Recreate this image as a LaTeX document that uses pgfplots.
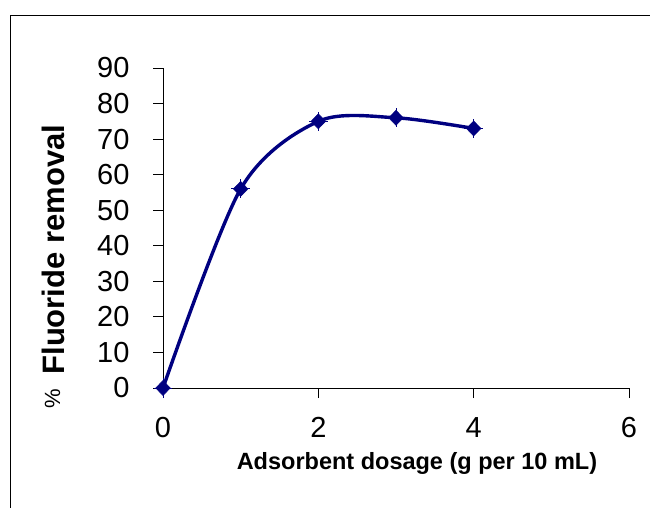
\documentclass[border=0pt]{standalone}
\usepackage{fontspec}
\setmainfont{Liberation Sans}
\usepackage{pgfplots}
\pgfplotsset{compat=1.18}
\definecolor{navyline}{RGB}{0,0,128}
\begin{document}
\begin{tikzpicture}[x=1pt,y=1pt]
\useasboundingbox (0,0) rectangle (650,507);
\draw[line width=1pt] (10.5,-5) -- (10.5,491) -- (660,491);
\begin{axis}[
  at={(163pt,119pt)}, anchor=south west,
  scale only axis, width=466pt, height=320pt,
  xmin=0, xmax=6, ymin=0, ymax=90,
  axis lines=left, axis line style={-, line width=0.8pt},
  clip=false,
  xtick={0,2,4,6}, ytick={0,10,...,90},
  tick align=outside, major tick length=10pt,
  tick style={black, line width=0.8pt},
  /pgf/number format/assume math mode=true,
  tick label style={font=\fontsize{29}{32}\selectfont},
  yticklabel style={xshift=-20pt},
  xticklabel style={yshift=-16pt},
  every axis y label/.style={at={(rel axis cs:0,0.38)}, xshift=-110pt, anchor=center, rotate=90},
  every axis x label/.style={at={(rel axis cs:0.545,0)}, yshift=-75pt, anchor=center},
  ylabel={\raisebox{4pt}{\fontsize{22}{24}\selectfont\%}\hspace{14pt}{\bfseries\fontsize{31}{34}\selectfont Fluoride removal}},
  xlabel={\bfseries\fontsize{23.5}{26}\selectfont Adsorbent dosage (g per 10 mL)},
]
\addplot[navyline, line width=3.4pt, smooth, tension=0.5, mark=diamond*, mark size=7.5pt,
  mark options={solid, fill=navyline, line width=0.5pt, xscale=1.3},
  error bars/.cd, y dir=both, y explicit, x dir=both, x explicit,
  error mark=none, error bar style={line width=1pt, navyline}]
coordinates {
  (0,0) +- (0.12,2.7)
  (1,56) +- (0.12,2.7)
  (2,75) +- (0.12,2.7)
  (3,76) +- (0.12,2.7)
  (4,73) +- (0.12,2.7)
};
\end{axis}
\end{tikzpicture}
\end{document}
